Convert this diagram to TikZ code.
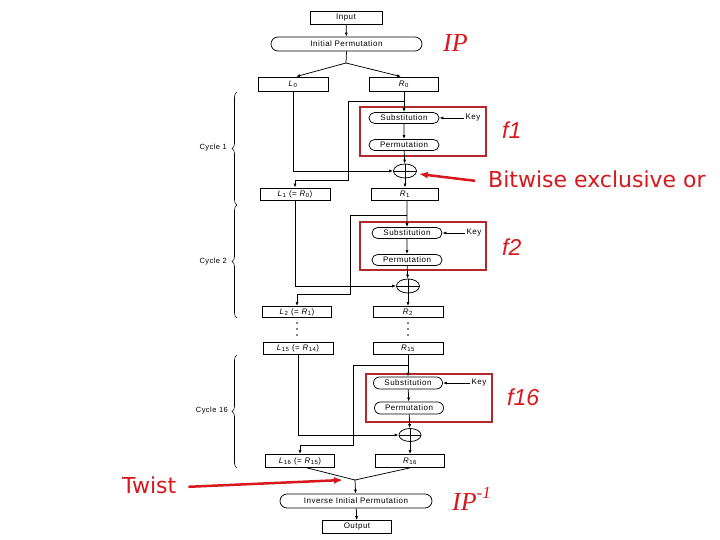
\documentclass[tikz,border=0pt]{standalone}
\usepackage{fontspec}
\setmainfont{Liberation Sans}
\newfontfamily\diagfont[LetterSpace=6]{Liberation Sans}
\newfontfamily\annfont{DejaVu Sans}
\newfontfamily\ipfont{Liberation Serif}
\usetikzlibrary{arrows.meta,shapes.geometric,shapes.misc,decorations.pathreplacing,calc}
\definecolor{annred}{RGB}{215,25,30}
\definecolor{boxred}{RGB}{180,40,45}
\tikzset{
  dbox/.style={draw, line width=0.75pt, minimum width=70, minimum height=13, inner sep=0,
    font=\diagfont\fontsize{8}{9}\selectfont},
  oval/.style={draw, rounded rectangle, line width=0.75pt, minimum width=70, minimum height=11, inner sep=0,
    font=\diagfont\fontsize{8}{9}\selectfont},
  xorop/.style={draw, ellipse, line width=0.75pt, minimum width=23, minimum height=14, inner sep=0},
  keyt/.style={inner sep=1pt, font=\diagfont\fontsize{8}{9}\selectfont},
  cyc/.style={inner sep=0, anchor=east, font=\diagfont\fontsize{7.5}{9}\selectfont},
  arr/.style={-{Latex[length=4pt,width=3pt]}, line width=0.75pt},
  ln/.style={line width=0.75pt},
  redbox/.style={draw=boxred, line width=2pt, inner sep=0},
  redarr/.style={draw=annred, line width=2.5pt, -{Latex[length=9pt,width=7pt]}},
  anntext/.style={text=annred, inner sep=0, anchor=base west, font=\annfont\fontsize{22}{24}\selectfont},
  ftext/.style={text=annred, inner sep=0, anchor=base west, font=\fontsize{23}{24}\selectfont\itshape},
  iptext/.style={text=annred, inner sep=0, anchor=base west, font=\ipfont\fontsize{26}{28}\selectfont\itshape},
  cbrace/.style={decorate, decoration={brace, amplitude=5pt}, line width=0.6pt}
}
\newcommand{\plusin}[1]{\draw[ln] (#1.north) -- (#1.south) (#1.west) -- (#1.east);}
\begin{document}
\begin{tikzpicture}[x=1pt,y=-1pt]
\useasboundingbox (0,0) rectangle (720,540);
\fill[white] (0,0) rectangle (720,540);

% ---- top ----
\node[dbox, minimum width=72, minimum height=13] (input) at (346,17.5) {Input};
\node[oval, minimum width=151, minimum height=14] (ip) at (346.5,44) {Initial Permutation};
\coordinate (s0) at (346,63);
\node[dbox, minimum height=14] (L0) at (293,84) {\textit{L}\textsubscript{0}};
\node[dbox, minimum width=69, minimum height=14] (R0) at (404,84) {\textit{R}\textsubscript{0}};
\draw[arr] (input) -- (ip);
\draw[ln] (ip.south) -- (s0);
\draw[arr] (s0) -- ([xshift=3pt]L0.north);
\draw[arr] (s0) -- ([xshift=-3pt]R0.north);

% ---- cycle 1 ----
\node[redbox, minimum width=126, minimum height=49] (f1box) at (423,131.5) {};
\node[oval] (sub1) at (404,118) {Substitution};
\node[oval] (perm1) at (404,145) {Permutation};
\node[xorop] (x1) at (405,171) {};
\plusin{x1}
\node[keyt] (k1) at (473,118) {Key};
\node[dbox, minimum height=12] (L1) at (295,194) {\textit{L}\textsubscript{1} (= \textit{R}\textsubscript{0})};
\node[dbox, minimum width=67, minimum height=12] (R1) at (405,194) {\textit{R}\textsubscript{1}};
\coordinate (b1) at (404,101);
\coordinate (b1b) at (348,180);
\draw[arr] (R0) -- (sub1);
\draw[arr] (sub1) -- (perm1);
\draw[arr] (perm1) -- (x1);
\draw[arr] (x1) -- (R1);
\draw[arr] (k1.west) -- (sub1.east);
\draw[arr] (b1) -| (b1b) -| (L1.north);
\draw[arr] (L0.south) |- (x1.west);

% ---- cycle 2 ----
\node[redbox, minimum width=126, minimum height=48] (f2box) at (423,246) {};
\node[oval] (sub2) at (407,233) {Substitution};
\node[oval] (perm2) at (407,260) {Permutation};
\node[xorop] (x2) at (408,286) {};
\plusin{x2}
\node[keyt] (k2) at (474,233) {Key};
\node[dbox, minimum width=69, minimum height=11] (L2) at (297,312) {\textit{L}\textsubscript{2} (= \textit{R}\textsubscript{1})};
\node[dbox, minimum height=11] (R2) at (408,312) {\textit{R}\textsubscript{2}};
\coordinate (b2) at (407,215);
\coordinate (b2b) at (350,294);
\draw[arr] ([xshift=2pt]R1.south) -- (sub2);
\draw[arr] (sub2) -- (perm2);
\draw[arr] (perm2) -- (x2);
\draw[arr] (x2) -- (R2);
\draw[arr] (k2.west) -- (sub2.east);
\draw[arr] (b2) -| (b2b) -| (L2.north);
\draw[arr] (L1.south) |- (x2.west);

% ---- dots ----
\foreach \yy in {323,329,335} {
  \fill (297,\yy) circle (0.9);
  \fill (408,\yy) circle (0.9);
}

% ---- cycle 16 ----
\node[dbox, minimum height=12] (L15) at (298,348) {\textit{L}\textsubscript{15} (= \textit{R}\textsubscript{14})};
\node[dbox, minimum height=12] (R15) at (408,348) {\textit{R}\textsubscript{15}};
\node[redbox, minimum width=126, minimum height=48] (f16box) at (429,398) {};
\node[oval, minimum width=69, minimum height=12] (sub16) at (408,383) {Substitution};
\node[oval, minimum width=69, minimum height=12] (perm16) at (409,408) {Permutation};
\node[xorop, minimum width=22, minimum height=13] (x16) at (410,435) {};
\plusin{x16}
\node[keyt] (k16) at (479,383) {Key};
\node[dbox, minimum width=69, minimum height=13] (L16) at (300,461) {\textit{L}\textsubscript{16} (= \textit{R}\textsubscript{15})};
\node[dbox, minimum width=69, minimum height=13] (R16) at (410,461) {\textit{R}\textsubscript{16}};
\coordinate (b16) at (408,365);
\coordinate (b16b) at (353,445);
\draw[arr] (R15) -- (sub16);
\draw[arr] (sub16) -- (perm16);
\draw[arr] (perm16) -- (x16);
\draw[arr] (x16) -- (R16);
\draw[arr] (k16.west) -- (sub16.east);
\draw[arr] (b16) -| (b16b) -| (L16.north);
\draw[arr] (L15.south) |- (x16.west);

% ---- bottom ----
\coordinate (tw) at (355,480);
\node[oval, minimum width=152, minimum height=14] (iip) at (356,501) {Inverse Initial Permutation};
\node[dbox, minimum width=69, minimum height=13] (out) at (357,527) {Output};
\draw[ln] ([xshift=7pt]L16.south) -- (tw);
\draw[ln] (R16.south) -- (tw);
\draw[arr] (tw) -- (iip);
\draw[arr] (iip) -- (out);

% ---- braces ----
\draw[cbrace] (237,205) -- (237,92);
\node[cyc] (c1) at (227,148) {Cycle 1};
\draw[cbrace] (237,318) -- (237,205);
\node[cyc] (c2) at (227,262) {Cycle 2};
\draw[cbrace] (237,468) -- (237,355);
\node[cyc] (c16) at (228,411) {Cycle 16};

% ---- red annotations ----
\node[iptext] (ipl) at (443,52) {IP};
\node[iptext] (ipinv) at (452,510) {IP\raisebox{12pt}{\fontsize{17}{18}\selectfont -1}};
\node[ftext] (f1) at (502,139) {f1};
\node[ftext] (f2) at (502,255) {f2};
\node[ftext] (f16) at (507,405) {f16};
\node[anntext] (bx) at (488,188) {Bitwise exclusive or};
\node[anntext] (twist) at (122,493) {Twist};
\draw[redarr] ($(bx.west)+(-13,1)$) -- ($(x1.east)+(2,3)$);
\draw[redarr] ($(twist.east)+(12,2)$) -- ($(tw)+(-12,0)$);
\end{tikzpicture}
\end{document}
